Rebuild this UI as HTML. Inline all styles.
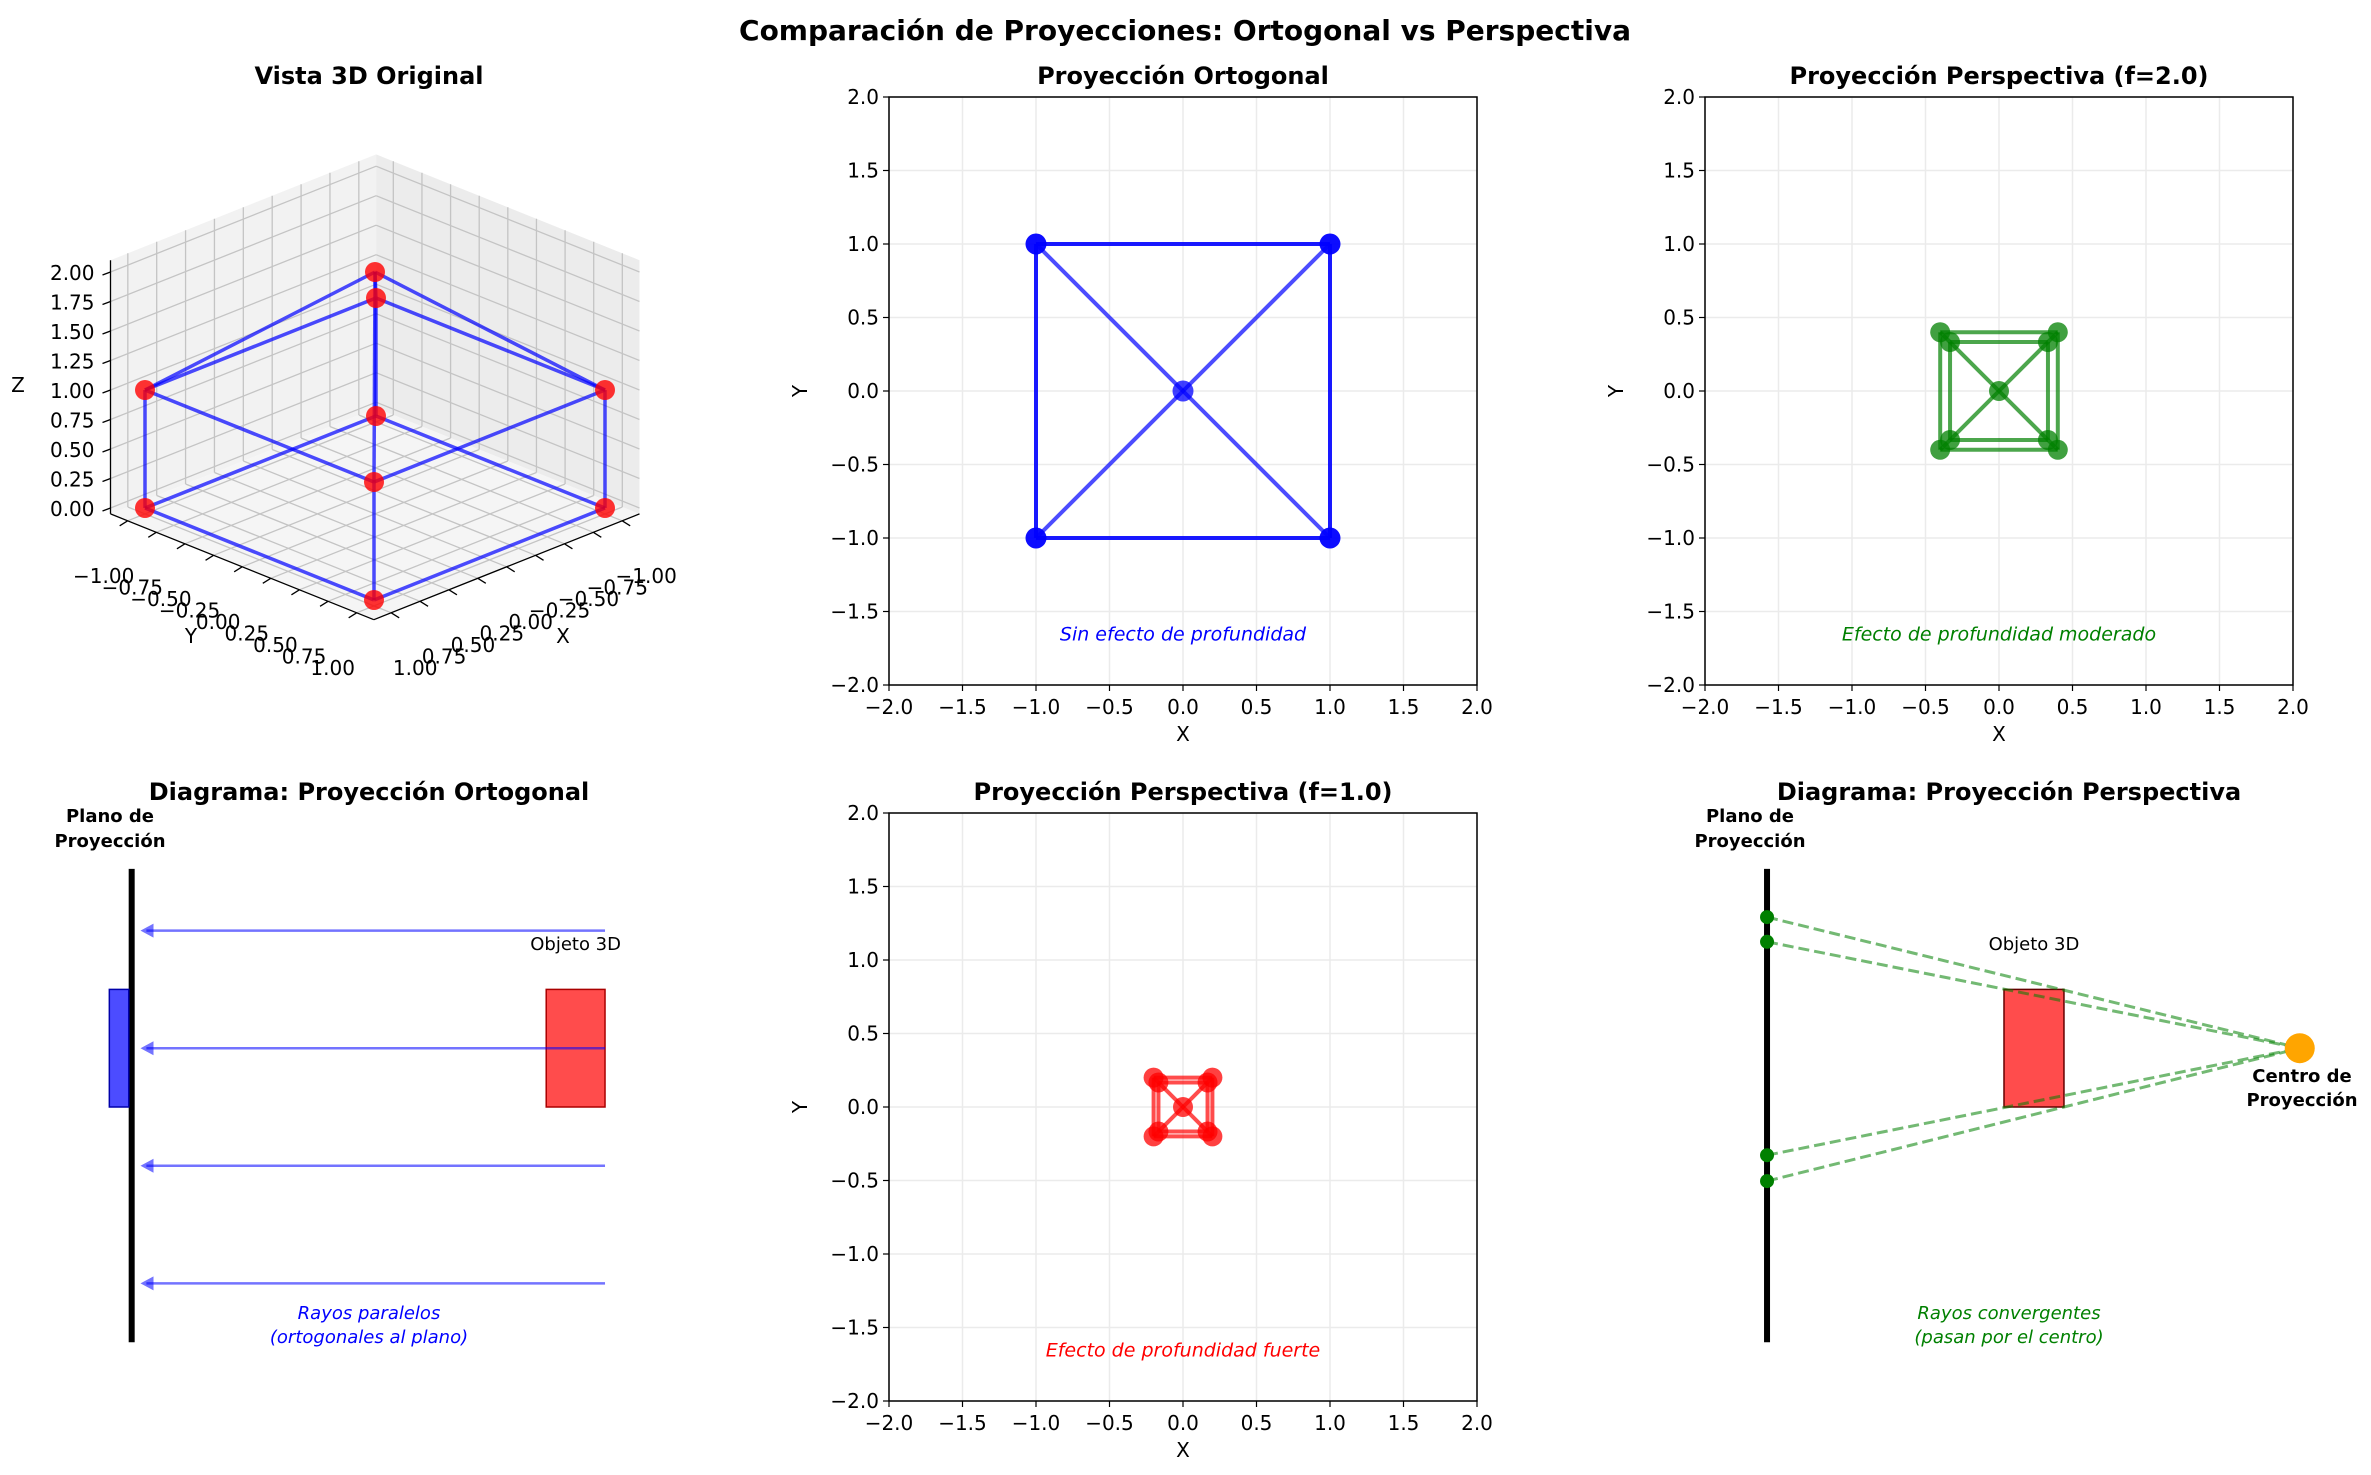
<!DOCTYPE html>
<html><head><meta charset="utf-8">
<style>
html,body{margin:0;padding:0;background:#fff;}
svg{display:block;font-family:"DejaVu Sans","Liberation Sans",sans-serif;}
</style></head>
<body>
<svg id="fig" width="2371" height="1475" viewBox="0 0 2371 1475" xmlns="http://www.w3.org/2000/svg">
<rect width="2371" height="1475" fill="#fff"/>
<text x="1185" y="40" text-anchor="middle" font-size="28" font-weight="bold">Comparación de Proyecciones: Ortogonal vs Perspectiva</text>
<g id="layer"></g>
</svg>
<script>
// ---------- data ----------
const tickVals = [-2, -1.5, -1, -0.5, 0, 0.5, 1, 1.5, 2];
const tickLabels = ["\u22122.0","\u22121.5","\u22121.0","\u22120.5","0.0","0.5","1.0","1.5","2.0"];
const orthoX = [-1, 1, 1, -1, 0];
const orthoY = [-1, -1, 1, 1, 0];
const persp2OuterX = [-0.4, 0.4, 0.4, -0.4];
const persp2OuterY = [-0.4, -0.4, 0.4, 0.4];
const persp2InnerX = [-0.333, 0.333, 0.333, -0.333];
const persp2InnerY = [-0.333, -0.333, 0.333, 0.333];
const persp1OuterX = [-0.2, 0.2, 0.2, -0.2];
const persp1OuterY = [-0.2, -0.2, 0.2, 0.2];
const persp1InnerX = [-0.167, 0.167, 0.167, -0.167];
const persp1InnerY = [-0.167, -0.167, 0.167, 0.167];
// 3D house: 8 cube corners + apex
const pts3dX = [-1, 1, 1, -1, -1, 1, 1, -1, 0];
const pts3dY = [-1, -1, 1, 1, -1, -1, 1, 1, 0];
const pts3dZ = [0, 0, 0, 0, 1, 1, 1, 1, 2];
const edges3d = [[0,1],[1,2],[2,3],[3,0],[4,5],[5,6],[6,7],[7,4],[0,4],[1,5],[2,6],[3,7],[8,4],[8,5],[8,6],[8,7]];
const ticks3d = [-1, -0.75, -0.5, -0.25, 0, 0.25, 0.5, 0.75, 1];
const ticks3dLabels = ["\u22121.00","\u22120.75","\u22120.50","\u22120.25","0.00","0.25","0.50","0.75","1.00"];
const zTicks = [0, 0.25, 0.5, 0.75, 1, 1.25, 1.5, 1.75, 2];
const zTickLabels = ["0.00","0.25","0.50","0.75","1.00","1.25","1.50","1.75","2.00"];
// diagrams (data space 0..10)
const orthoRayY = [8, 6, 4, 2];
const perspDotY = [8.23, 7.81, 4.18, 3.74];
const perspCenter = [10.2, 6];

const NS = "http://www.w3.org/2000/svg";
const layer = document.getElementById('layer');
function el(tag, attrs, parent, txt){
  const e = document.createElementNS(NS, tag);
  for (const k in attrs) e.setAttribute(k, attrs[k]);
  if (txt !== undefined) e.textContent = txt;
  (parent||layer).appendChild(e);
  return e;
}

// ---------- 2D axes ----------
function makeAxes(name, L, T, S){
  const g = el('g', {});
  
  
  const sx = v => L + (v + 2) / 4 * S;
  const sy = v => T + S - (v + 2) / 4 * S;
  tickVals.forEach((v, i) => {
    const gx = el('line', {x1:sx(v), y1:T, x2:sx(v), y2:T+S, stroke:'#ebebeb', 'stroke-width':1.5}, g);
    
    
    const gy = el('line', {x1:L, y1:sy(v), x2:L+S, y2:sy(v), stroke:'#ebebeb', 'stroke-width':1.5}, g);
    
    
    el('line', {x1:sx(v), y1:T+S, x2:sx(v), y2:T+S+6, stroke:'#000', 'stroke-width':1.2}, g);
    el('line', {x1:L-6, y1:sy(v), x2:L, y2:sy(v), stroke:'#000', 'stroke-width':1.2}, g);
    const tx = el('text', {x:sx(v), y:T+S+29, 'text-anchor':'middle', 'font-size':20}, g, tickLabels[i]);
    
    
    const ty = el('text', {x:L-10, y:sy(v)+7, 'text-anchor':'end', 'font-size':20}, g, tickLabels[i]);
    
    
  });
  const fr = el('rect', {x:L, y:T, width:S, height:S, fill:'none', stroke:'#000', 'stroke-width':1.5}, g);
  
  
  const xl = el('text', {x:L+S/2, y:T+S+56, 'text-anchor':'middle', 'font-size':20}, g, 'X');
  
  
  const yl = el('text', {x:L-82, y:T+S/2, 'text-anchor':'middle', 'font-size':20, transform:`rotate(-90 ${L-82} ${T+S/2})`}, g, 'Y');
  
  
  return {g, sx, sy};
}
function title(name, x, y, txt){
  const t = el('text', {x, y, 'text-anchor':'middle', 'font-size':24, 'font-weight':'bold'}, layer, txt);
  
  
}
function seg(ax, x1, y1, x2, y2, color, op, w, name){
  const l = el('line', {x1:ax.sx(x1), y1:ax.sy(y1), x2:ax.sx(x2), y2:ax.sy(y2), stroke:color, 'stroke-opacity':op, 'stroke-width':w}, ax.g);
  
  
}
function dot(ax, x, y, color, op, r, name){
  const c = el('circle', {cx:ax.sx(x), cy:ax.sy(y), r, fill:color, 'fill-opacity':op}, ax.g);
  
  
}
function note(ax, txt, color){
  const t = el('text', {x:ax.sx(0), y:ax.sy(-1.65)+7, 'text-anchor':'middle', 'font-size':19, 'font-style':'italic', fill:color}, ax.g, txt);
  
  
}

// Orthogonal
const axO = makeAxes('ortho-axes', 889, 97, 588);
title('ortho-title', 1183, 84, 'Proyección Ortogonal');
for (let i = 0; i < 4; i++) seg(axO, orthoX[i], orthoY[i], orthoX[(i+1)%4], orthoY[(i+1)%4], '#0000ff', 0.9, 4, 'ortho-edge');
for (let i = 0; i < 4; i++) seg(axO, orthoX[i], orthoY[i], orthoX[4], orthoY[4], '#0000ff', 0.7, 4, 'ortho-diagonal');
for (let i = 0; i < 5; i++) dot(axO, orthoX[i], orthoY[i], '#0000ff', i === 4 ? 0.75 : 0.95, 10.5, 'ortho-point');
note(axO, 'Sin efecto de profundidad', '#0000ff');

function perspPanel(ax, ox, oy, ix, iy, color, r){
  for (let i = 0; i < 4; i++){
    seg(ax, ox[i], oy[i], ox[(i+1)%4], oy[(i+1)%4], color, 0.7, 4, 'outer-edge');
    seg(ax, ix[i], iy[i], ix[(i+1)%4], iy[(i+1)%4], color, 0.7, 4, 'inner-edge');
    seg(ax, ox[i], oy[i], ix[i], iy[i], color, 0.7, 4, 'connector-edge');
    seg(ax, ix[i], iy[i], 0, 0, color, 0.7, 4, 'center-edge');
  }
  for (let i = 0; i < 4; i++){ dot(ax, ox[i], oy[i], color, 0.75, r, 'outer-point'); dot(ax, ix[i], iy[i], color, 0.75, r, 'inner-point'); }
  dot(ax, 0, 0, color, 0.75, r, 'center-point');
}
const axP2 = makeAxes('persp-f2-axes', 1705, 97, 588);
title('persp-f2-title', 1999, 84, 'Proyección Perspectiva (f=2.0)');
perspPanel(axP2, persp2OuterX, persp2OuterY, persp2InnerX, persp2InnerY, '#008000', 10);
note(axP2, 'Efecto de profundidad moderado', '#008000');

const axP1 = makeAxes('persp-f1-axes', 889, 813, 588);
title('persp-f1-title', 1183, 800, 'Proyección Perspectiva (f=1.0)');
perspPanel(axP1, persp1OuterX, persp1OuterY, persp1InnerX, persp1InnerY, '#ff0000', 10);
note(axP1, 'Efecto de profundidad fuerte', '#ff0000');

// ---------- 3D view ----------
title('view3d-title', 369, 84, 'Vista 3D Original');
const g3 = el('g', {});


const O3 = [375, 508];
function P(x, y, z){ return [O3[0] - 115.5*x + 114.5*y, O3[1] + 46*x + 46*y - 118*z]; }
const XM = 1.15, ZMIN = -0.05, ZMAX = 2.1;
function poly(pts, fill, name){
  const p = el('polygon', {points: pts.map(q => q.join(',')).join(' '), fill, stroke:'none'}, g3);
  
  
}
poly([P(XM,-XM,ZMIN),P(-XM,-XM,ZMIN),P(-XM,-XM,ZMAX),P(XM,-XM,ZMAX)], '#f2f2f2', 'left-pane');
poly([P(-XM,-XM,ZMIN),P(-XM,XM,ZMIN),P(-XM,XM,ZMAX),P(-XM,-XM,ZMAX)], '#ececec', 'right-pane');
poly([P(XM,-XM,ZMIN),P(-XM,-XM,ZMIN),P(-XM,XM,ZMIN),P(XM,XM,ZMIN)], '#f5f5f5', 'floor-pane');
function gl(a, b){
  const l = el('line', {x1:a[0], y1:a[1], x2:b[0], y2:b[1], stroke:'#c4c4c4', 'stroke-width':1.3}, g3);
  
  
}
ticks3d.forEach(t => {
  gl(P(t,-XM,ZMIN), P(t,-XM,ZMAX)); gl(P(t,-XM,ZMIN), P(t,XM,ZMIN));
  gl(P(-XM,t,ZMIN), P(-XM,t,ZMAX)); gl(P(XM,t,ZMIN), P(-XM,t,ZMIN));
});
zTicks.forEach(z => { gl(P(XM,-XM,z), P(-XM,-XM,z)); gl(P(-XM,-XM,z), P(-XM,XM,z)); });
function axl(a, b){ el('line', {x1:a[0], y1:a[1], x2:b[0], y2:b[1], stroke:'#000', 'stroke-width':1.3}, g3); }
axl(P(XM,-XM,ZMIN), P(XM,-XM,ZMAX));
axl(P(XM,-XM,ZMIN), P(XM,XM,ZMIN));
axl(P(XM,XM,ZMIN), P(-XM,XM,ZMIN));
zTicks.forEach((z, i) => {
  const p = P(XM,-XM,z);
  axl([p[0]-8, p[1]+3], p);
  const t = el('text', {x:p[0]-16, y:p[1]+8, 'text-anchor':'end', 'font-size':20}, g3, zTickLabels[i]);
  
  
});
ticks3d.forEach((v, i) => {
  const py = P(XM, v, ZMIN);
  axl(py, [py[0]-8, py[1]+5]);
  const ty = el('text', {x:py[0]-24, y:py[1]+62, 'text-anchor':'middle', 'font-size':20}, g3, ticks3dLabels[i]);
  
  
  const px = P(v, XM, ZMIN);
  axl(px, [px[0]+8, px[1]+5]);
  const tx = el('text', {x:px[0]+24, y:px[1]+62, 'text-anchor':'middle', 'font-size':20}, g3, ticks3dLabels[i]);
  
  
});
[['Z',18,392,'z-axis-title'],['Y',191,643,'y-axis-title-3d'],['X',563,643,'x-axis-title-3d']].forEach(a => {
  const t = el('text', {x:a[1], y:a[2], 'text-anchor':'middle', 'font-size':20}, g3, a[0]);
  
  
});
edges3d.forEach(e => {
  const a = P(pts3dX[e[0]], pts3dY[e[0]], pts3dZ[e[0]]), b = P(pts3dX[e[1]], pts3dY[e[1]], pts3dZ[e[1]]);
  const l = el('line', {x1:a[0], y1:a[1], x2:b[0], y2:b[1], stroke:'#0000ff', 'stroke-opacity':0.7, 'stroke-width':3.5}, g3);
  
  
});
for (let i = 0; i < pts3dX.length; i++){
  const p = P(pts3dX[i], pts3dY[i], pts3dZ[i]);
  const c = el('circle', {cx:p[0], cy:p[1], r:10, fill:'#ff0000', 'fill-opacity':0.8}, g3);
  
  
}

// ---------- diagrams ----------
function diag(name, L){
  const g = el('g', {});
  
  
  return {g, dx: v => L + v*58.8, dy: v => 1401 - v*58.8};
}
function dtext(d, name, x, y, txt, attrs){
  const t = el('text', Object.assign({x, y, 'text-anchor':'middle', 'font-size':18}, attrs||{}), d.g, txt);
  
  
  return t;
}
// ortho diagram
title('ortho-diagram-title', 369, 800, 'Diagrama: Proyección Ortogonal');
const dO = diag('ortho-diagram', 67);
{
  const pl = el('line', {x1:dO.dx(1.1), y1:dO.dy(1), x2:dO.dx(1.1), y2:dO.dy(9.05), stroke:'#000', 'stroke-width':6}, dO.g);
  
  
  const br = el('rect', {x:dO.dx(0.72), y:dO.dy(7), width:dO.dx(1.05)-dO.dx(0.72), height:dO.dy(5)-dO.dy(7), fill:'#0000ff', 'fill-opacity':0.7, stroke:'#0000aa', 'stroke-width':1.5}, dO.g);
  
  
  const rr = el('rect', {x:dO.dx(8.15), y:dO.dy(7), width:dO.dx(9.15)-dO.dx(8.15), height:dO.dy(5)-dO.dy(7), fill:'#ff0000', 'fill-opacity':0.7, stroke:'#aa0000', 'stroke-width':1.5}, dO.g);
  
  
  orthoRayY.forEach(y => {
    const l = el('line', {x1:dO.dx(9.15), y1:dO.dy(y), x2:dO.dx(1.35), y2:dO.dy(y), stroke:'#0000ff', 'stroke-opacity':0.55, 'stroke-width':2.5}, dO.g);
    
    
    const x0 = dO.dx(1.25), y0 = dO.dy(y);
    const h = el('polygon', {points:`${x0},${y0} ${x0+13},${y0-7} ${x0+13},${y0+7}`, fill:'#0000ff', 'fill-opacity':0.55}, dO.g);
    
    
  });
  dtext(dO, 'object-label', dO.dx(8.65), dO.dy(7.7)+2, 'Objeto 3D');
  dtext(dO, 'plane-label', 110, 822, 'Plano de', {'font-weight':'bold'});
  dtext(dO, 'plane-label-2', 110, 847, 'Proyección', {'font-weight':'bold'});
  dtext(dO, 'rays-note', 369, 1319, 'Rayos paralelos', {'font-style':'italic', fill:'#0000ff'});
  dtext(dO, 'rays-note-2', 369, 1343, '(ortogonales al plano)', {'font-style':'italic', fill:'#0000ff'});
}
// perspective diagram
title('persp-diagram-title', 2009, 800, 'Diagrama: Proyección Perspectiva');
const dP = diag('persp-diagram', 1700);
{
  const pl = el('line', {x1:dP.dx(1.14), y1:dP.dy(1), x2:dP.dx(1.14), y2:dP.dy(9.05), stroke:'#000', 'stroke-width':6}, dP.g);
  
  
  const rr = el('rect', {x:dP.dx(5.17), y:dP.dy(7), width:dP.dx(6.19)-dP.dx(5.17), height:dP.dy(5)-dP.dy(7), fill:'#ff0000', 'fill-opacity':0.7, stroke:'#660000', 'stroke-width':1.5}, dP.g);
  
  
  perspDotY.forEach(y => {
    const l = el('line', {x1:dP.dx(1.14), y1:dP.dy(y), x2:dP.dx(perspCenter[0]), y2:dP.dy(perspCenter[1]), stroke:'#008000', 'stroke-opacity':0.55, 'stroke-width':3, 'stroke-dasharray':'11,5'}, dP.g);
    
    
  });
  perspDotY.forEach(y => {
    const c = el('circle', {cx:dP.dx(1.14), cy:dP.dy(y), r:7, fill:'#008000'}, dP.g);
    
    
  });
  const cc = el('circle', {cx:dP.dx(perspCenter[0]), cy:dP.dy(perspCenter[1]), r:15, fill:'#ffa500'}, dP.g);
  
  
  dtext(dP, 'object-label', dP.dx(5.68), dP.dy(7.7)+2, 'Objeto 3D');
  dtext(dP, 'plane-label', 1750, 822, 'Plano de', {'font-weight':'bold'});
  dtext(dP, 'plane-label-2', 1750, 847, 'Proyección', {'font-weight':'bold'});
  dtext(dP, 'center-label', 2302, 1082, 'Centro de', {'font-weight':'bold'});
  dtext(dP, 'center-label-2', 2302, 1106, 'Proyección', {'font-weight':'bold'});
  dtext(dP, 'rays-note', 2009, 1319, 'Rayos convergentes', {'font-style':'italic', fill:'#008000'});
  dtext(dP, 'rays-note-2', 2009, 1343, '(pasan por el centro)', {'font-style':'italic', fill:'#008000'});
}
</script>
</body></html>
